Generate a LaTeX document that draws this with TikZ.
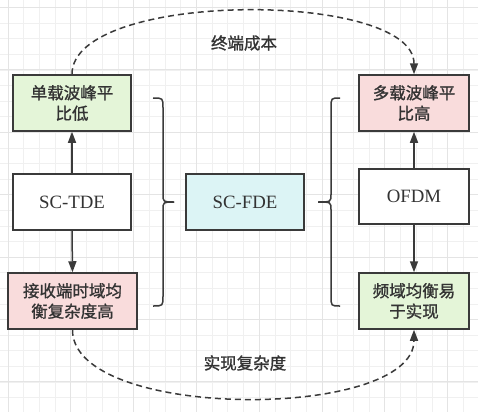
\documentclass[tikz,border=0pt]{standalone}
\usepackage{fontspec}
\setmainfont{Liberation Serif}
\newfontfamily\cjk{Noto Sans CJK SC}[FakeBold=1.2]
\usetikzlibrary{arrows.meta}
\definecolor{gridminor}{HTML}{F0F0F0}
\definecolor{gridmajor}{HTML}{E4E4E4}
\definecolor{edge}{HTML}{3A3A3A}
\definecolor{ink}{HTML}{333333}
\definecolor{greenf}{HTML}{E4F5D8}
\definecolor{pinkf}{HTML}{F9DCDC}
\definecolor{cyanf}{HTML}{DCF4F5}
\tikzset{
  gridline/.style={draw=gridminor, line width=0.8pt},
  gridmaj/.style={draw=gridmajor, line width=0.9pt},
  box/.style={draw=edge, line width=1.5pt, align=center, text=ink, inner sep=2pt},
  cjkbox/.style={box, font=\cjk\fontsize{16.5}{20.5}\selectfont},
  latbox/.style={box, font=\fontsize{18.8}{22}\selectfont},
  arr/.style={draw=edge, line width=1.5pt, -{Triangle[length=11pt,width=8pt]}},
  dasharr/.style={draw=edge, line width=1.5pt, dash pattern=on 6pt off 4pt, -{Triangle[length=11pt,width=8pt]}},
  bracestyle/.style={draw=edge, line width=1.5pt},
  lbl/.style={text=ink, font=\cjk\fontsize{16.5}{20}\selectfont, inner sep=0pt}
}
\begin{document}
\begin{tikzpicture}[x=1pt,y=-1pt]
\useasboundingbox (0,0) rectangle (478,412);
\fill[white] (0,0) rectangle (478,412);
% grid
\foreach \k in {0,...,30} {\draw[gridline] ({8+15.7*\k},0) -- ({8+15.7*\k},412);}
\foreach \k in {0,...,26} {\draw[gridline] (0,{7.5+15.6*\k}) -- (478,{7.5+15.6*\k});}
\foreach \k in {0,4,...,28} {\draw[gridmaj] ({8+15.7*\k},0) -- ({8+15.7*\k},412);}
\foreach \k in {0,4,...,24} {\draw[gridmaj] (0,{7.5+15.6*\k}) -- (478,{7.5+15.6*\k});}

% boxes
\node[cjkbox, fill=greenf, minimum width=118pt, minimum height=56pt] (a) at (72,103) {单载波峰平\\比低};
\node[latbox, fill=white, minimum width=118pt, minimum height=56pt] (b) at (72,202) {SC-TDE};
\node[cjkbox, fill=pinkf, minimum width=129pt, minimum height=56pt] (c) at (72.5,301) {接收端时域均\\衡复杂度高};
\node[latbox, fill=cyanf, minimum width=118pt, minimum height=56pt] (d) at (245,202) {SC-FDE};
\node[cjkbox, fill=pinkf, minimum width=110pt, minimum height=56pt] (e) at (414,103) {多载波峰平\\比高};
\node[latbox, fill=white, minimum width=110pt, minimum height=55pt] (f) at (414,196.5) {OFDM};
\node[cjkbox, fill=greenf, minimum width=110pt, minimum height=56pt] (g) at (414,301) {频域均衡易\\于实现};

% solid arrows
\draw[arr] (b.north) -- (a.south);
\draw[arr] (b.south) -- (c.north);
\draw[arr] (f.north) -- (e.south);
\draw[arr] (f.south) -- (g.north);

% dashed curves
\coordinate (t1) at (72,-10);
\coordinate (t2) at (414,-10);
\coordinate (b1) at (72,421);
\coordinate (b2) at (414,421);
\draw[dasharr] (a.north) .. controls (t1) and (t2) .. (e.north);
\draw[dasharr] (c.south) .. controls (b1) and (b2) .. (g.south);

% labels
\node[lbl] (l1) at (244,43) {终端成本};
\node[lbl] (l2) at (245,363) {实现复杂度};

% braces
\draw[bracestyle] (153,98) .. controls (163,98) .. (163,108) -- (163,194)
   .. controls (163,202) .. (174,202);
\draw[bracestyle] (174,202) .. controls (163,202) .. (163,210) -- (163,296)
   .. controls (163,306) .. (153,306);
\draw[bracestyle] (340,98) .. controls (331,98) .. (331,108) -- (331,194)
   .. controls (331,202) .. (318,202);
\draw[bracestyle] (318,202) .. controls (331,202) .. (331,210) -- (331,296)
   .. controls (331,306) .. (340,306);
\end{tikzpicture}
\end{document}
